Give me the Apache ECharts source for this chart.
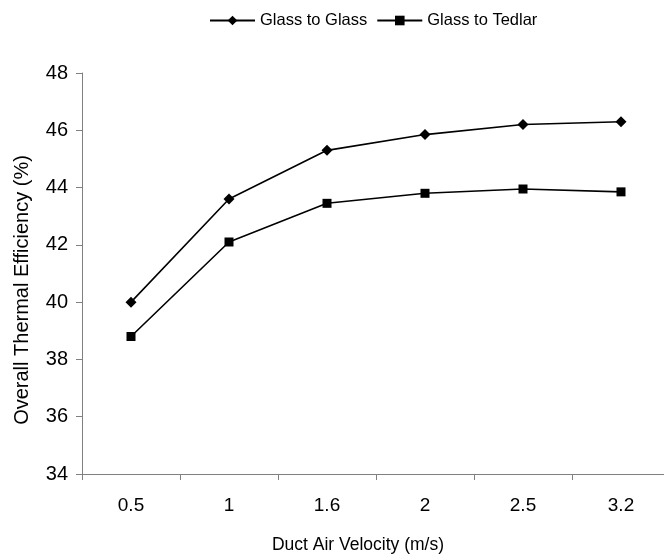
<!DOCTYPE html>
<html>
<head>
<meta charset="utf-8">
<script src="https://cdn.jsdelivr.net/npm/echarts@6/dist/echarts.min.js"></script>
<style>
html,body{margin:0;padding:0;background:#fff;overflow:hidden;width:664px;height:557px;}
#chart{width:670px;height:557px;}
</style>
</head>
<body>
<div id="chart"></div>
<script>
var categories = ['0.5', '1', '1.6', '2', '2.5', '3.2'];
var glassToGlass = [40.0, 43.6, 45.3, 45.85, 46.2, 46.3];
var glassToTedlar = [38.8, 42.1, 43.45, 43.8, 43.95, 43.85];
var seriesNames = ['Glass to Glass', 'Glass to Tedlar'];
var xTitle = 'Duct Air Velocity (m/s)';
var yTitle = 'Overall Thermal Efficiency (%)';

var font = 'Liberation Sans, Arial, sans-serif';
var chart = echarts.init(document.getElementById('chart'));
chart.setOption({
  animation: false,
  backgroundColor: '#fff',
  legend: {
    top: 7,
    left: 204,
    itemWidth: 45,
    itemHeight: 12,
    itemGap: 9,
    textStyle: { fontFamily: font, fontSize: 16.5, color: '#000' },
    data: seriesNames
  },
  grid: { left: 82, top: 73, width: 588, height: 401, containLabel: false },
  xAxis: {
    type: 'category',
    data: categories,
    boundaryGap: true,
    axisLine: { lineStyle: { color: '#808080', width: 1 } },
    axisTick: { show: true, length: 6, lineStyle: { color: '#808080' } },
    axisLabel: { fontFamily: font, fontSize: 19, color: '#000', margin: 22 },
    splitLine: { show: false }
  },
  yAxis: {
    type: 'value',
    min: 34, max: 48, interval: 2,
    axisLine: { show: true, lineStyle: { color: '#808080', width: 1 } },
    axisTick: { show: true, length: 6, lineStyle: { color: '#808080' } },
    axisLabel: { fontFamily: font, fontSize: 20, color: '#000', margin: 14 },
    splitLine: { show: false }
  },
  graphic: [
    { type: 'text', x: 358, y: 545,
      style: { text: xTitle, font: '17.5px ' + font, fill: '#000', align: 'center', verticalAlign: 'middle' } },
    { type: 'text', x: 22, y: 290, rotation: Math.PI / 2,
      style: { text: yTitle, font: '20px ' + font, fill: '#000', align: 'center', verticalAlign: 'middle' } }
  ],
  series: [
    {
      name: seriesNames[0], type: 'line', data: glassToGlass,
      symbol: 'diamond', symbolSize: 11,
      lineStyle: { color: '#000', width: 1.6 },
      itemStyle: { color: '#000' }
    },
    {
      name: seriesNames[1], type: 'line', data: glassToTedlar,
      symbol: 'rect', symbolSize: 9,
      lineStyle: { color: '#000', width: 1.6 },
      itemStyle: { color: '#000' }
    }
  ]
});
</script>
</body>
</html>
